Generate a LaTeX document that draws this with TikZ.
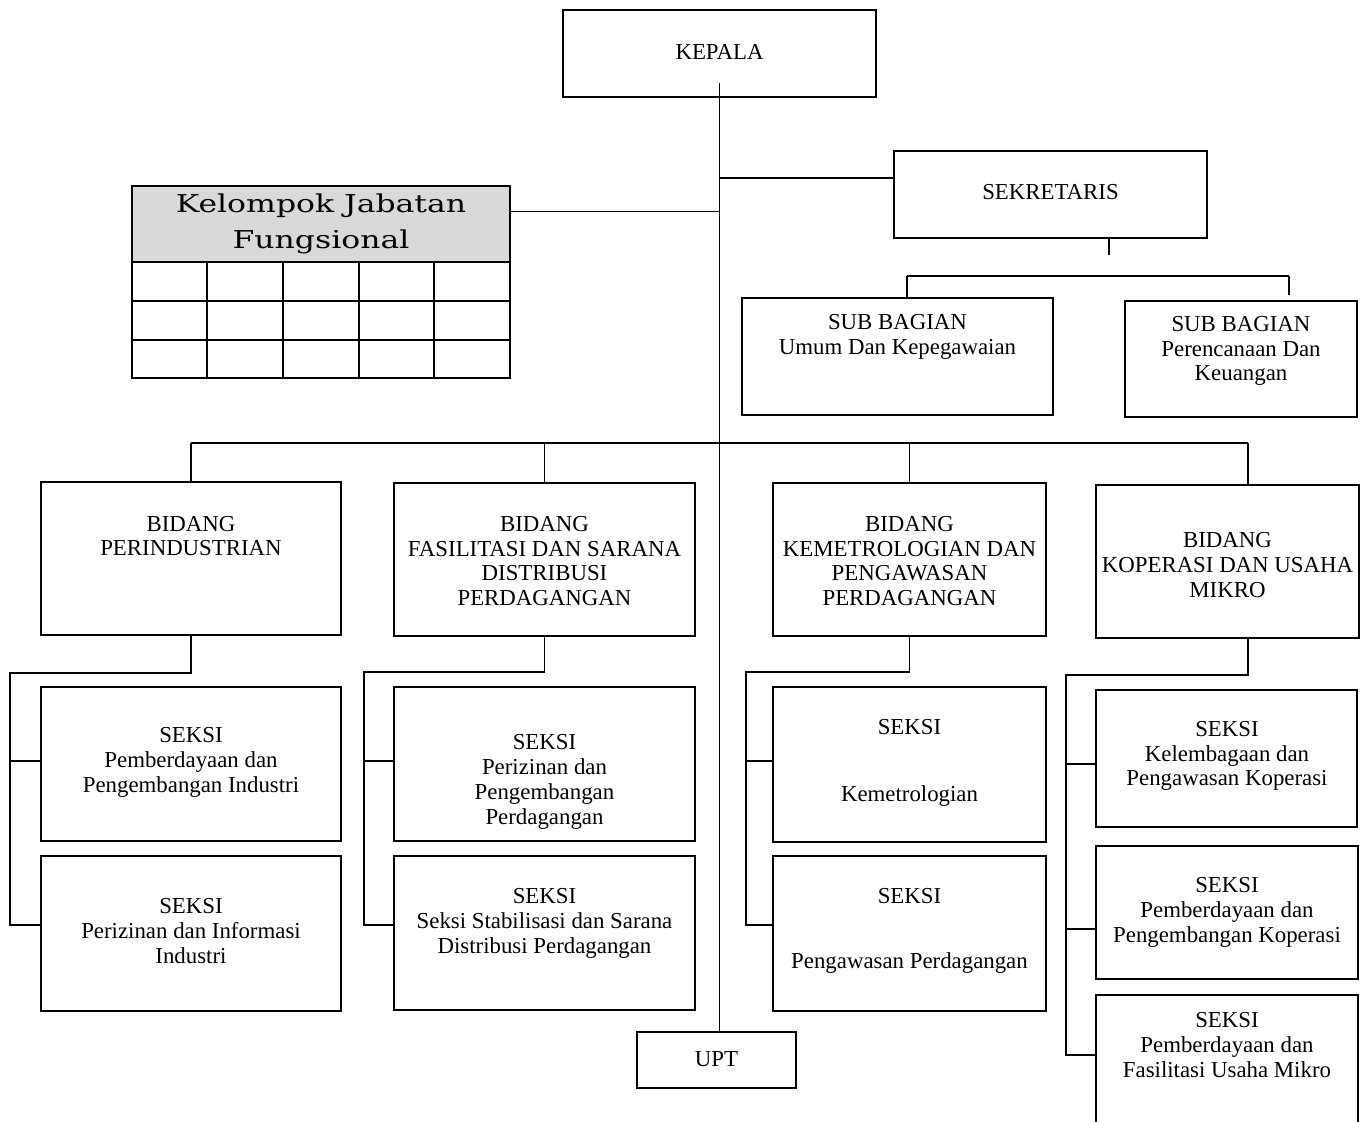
\documentclass[tikz,border=0pt]{standalone}
\usepackage{fontspec}
\setmainfont{Liberation Serif}
\newfontfamily\kjffont[FakeStretch=1.28]{DejaVu Serif}
\usetikzlibrary{fit,calc}
\begin{document}
\begin{tikzpicture}[x=0.02cm,y=-0.02cm,
  box/.style={draw, line width=1.1pt, inner sep=0pt},
  conn/.style={line width=1.1pt},
  txt/.style={align=center, font=\fontsize{13}{14.17}\selectfont, inner sep=0pt},
  kjftxt/.style={align=center, font=\kjffont\fontsize{14}{20.4}\selectfont, inner sep=0pt}]
\clip (0,0) rectangle (1366,1122);
\fill[white] (0,0) rectangle (1366,1122);

% ---------- boxes ----------
\node[box, fit={(563,10) (876,97)}] (kepala) {};
\node[box, fit={(894,151) (1207,238)}] (sek) {};
\node[box, fit={(742,298) (1053,415)}] (sub1) {};
\node[box, fit={(1125,301) (1357,417)}] (sub2) {};
\node[box, fill=black!15, fit={(132,186) (510,262)}] (kjfh) {};
\node[box, fit={(132,186) (510,378)}] (kjf) {};

\node[box, fit={(41,482) (341,635)}] (b1) {};
\node[box, fit={(394,483) (695,636)}] (b2) {};
\node[box, fit={(773,483) (1046,636)}] (b3) {};
\node[box, fit={(1096,485) (1359,638)}] (b4) {};

\node[box, fit={(41,687) (341,841)}] (s1a) {};
\node[box, fit={(41,856) (341,1011)}] (s1b) {};
\node[box, fit={(394,687) (695,841)}] (s2a) {};
\node[box, fit={(394,856) (695,1010)}] (s2b) {};
\node[box, fit={(773,687) (1046,842)}] (s3a) {};
\node[box, fit={(773,856) (1046,1011)}] (s3b) {};
\node[box, fit={(1096,690) (1357,827)}] (s4a) {};
\node[box, fit={(1096,846) (1358,979)}] (s4b) {};
\node[box, fit={(1096,995) (1358,1200)}] (s4c) {};

\node[box, fit={(637,1032) (796,1088)}] (upt) {};

% ---------- grid of Kelompok Jabatan Fungsional ----------
\foreach \yy in {301,340} \draw[conn] (kjf.west |- 0,\yy) -- (kjf.east |- 0,\yy);
\foreach \xx in {207,283,359,434} \draw[conn] (\xx,0 |- kjfh.south) -- (\xx,0 |- kjf.south);

% ---------- texts ----------
\node[txt] (tkepala) at (719.5,52) {KEPALA};
\node[txt] (tsek) at (1050.5,192) {SEKRETARIS};
\node[txt] (tsub1) at (897.5,337) {SUB BAGIAN\\Umum Dan Kepegawaian};
\node[txt] (tsub2) at (1241,351) {SUB BAGIAN\\Perencanaan Dan\\Keuangan};
\node[kjftxt] (tkjf) at (321,224) {Kelompok Jabatan\\Fungsional};

\node[txt] (tb1) at (191,536) {BIDANG\\PERINDUSTRIAN};
\node[txt] (tb2) at (544.5,561) {BIDANG\\FASILITASI DAN SARANA\\DISTRIBUSI\\PERDAGANGAN};
\node[txt] (tb3) at (909.5,561) {BIDANG\\KEMETROLOGIAN DAN\\PENGAWASAN\\PERDAGANGAN};
\node[txt] (tb4) at (1227.5,565) {BIDANG\\KOPERASI DAN USAHA\\MIKRO};

\node[txt] (ts1a) at (191,762) {SEKSI\\Pemberdayaan dan\\Pengembangan Industri};
\node[txt] (ts1b) at (191,931) {SEKSI\\Perizinan dan Informasi\\Industri};
\node[txt] (ts2a) at (544.5,782) {SEKSI\\Perizinan dan\\Pengembangan\\Perdagangan};
\node[txt] (ts2b) at (544.5,923) {SEKSI\\Seksi Stabilisasi dan Sarana\\Distribusi Perdagangan};
\node[txt] (ts3a) at (909.5,763) {SEKSI\\[23.8pt]Kemetrologian};
\node[txt] (ts3b) at (909.5,931) {SEKSI\\[23.2pt]Pengawasan Perdagangan};
\node[txt] (ts4a) at (1227,756) {SEKSI\\Kelembagaan dan\\Pengawasan Koperasi};
\node[txt] (ts4b) at (1227,912) {SEKSI\\Pemberdayaan dan\\Pengembangan Koperasi};
\node[txt] (ts4c) at (1227,1045) {SEKSI\\Pemberdayaan dan\\Fasilitasi Usaha Mikro};
\node[txt] (tupt) at (716.5,1059) {UPT};

% ---------- connectors: top part ----------
\draw[conn] ($(kepala.south)+(0,-15)$) -- (kepala.south |- upt.north);
\coordinate (sekin) at ($(sek.north west)!0.31!(sek.south west)$);
\draw[conn] (kepala.south |- sekin) -- (sekin);
\coordinate (kjfout) at ($(kjfh.north east)!0.34!(kjfh.south east)$);
\draw[conn] (kjfout) -- (kepala.south |- kjfout);

\coordinate (sekstub) at ($(sek.south west)!0.686!(sek.south east)$);
\draw[conn] (sekstub) -- ++(0,16);
\coordinate (sbL) at (907,276);
\coordinate (sbR) at (1289,276);
\draw[conn, line width=0.9pt] (sbL) -- (sbR);
\draw[conn] (sbL) -- (sbL |- sub1.north);
\draw[conn] (sbR) -- ++(0,19);

% ---------- connectors: bidang bus ----------
\coordinate (bus) at (0,443);
\coordinate (b4top) at ($(b4.north west)!0.578!(b4.north east)$);
\draw[conn] (b1.north |- bus) -- (b4top |- bus);
\foreach \n in {b1,b2,b3} \draw[conn] (\n.north |- bus) -- (\n.north);
\draw[conn] (b4top |- bus) -- (b4top);

% ---------- connectors: seksi ----------
% column 1
\coordinate (r1) at (10,673);
\coordinate (r1a) at (10,761);
\coordinate (r1b) at (10,925);
\draw[conn] (b1.south) |- (r1) -- (r1b) -- (r1b -| s1b.west);
\draw[conn] (r1a) -- (r1a -| s1a.west);
% column 2
\coordinate (r2) at (364,672);
\coordinate (r2a) at (364,761);
\coordinate (r2b) at (364,925);
\draw[conn] (b2.south) |- (r2) -- (r2b) -- (r2b -| s2b.west);
\draw[conn] (r2a) -- (r2a -| s2a.west);
% column 3
\coordinate (r3) at (746,672);
\coordinate (r3a) at (746,761);
\coordinate (r3b) at (746,925);
\draw[conn] (b3.south) |- (r3) -- (r3b) -- (r3b -| s3b.west);
\draw[conn] (r3a) -- (r3a -| s3a.west);
% column 4
\coordinate (r4) at (1066,675);
\coordinate (r4a) at (1066,764);
\coordinate (r4b) at (1066,929);
\coordinate (r4c) at (1066,1055);
\draw[conn] (b4top |- b4.south) |- (r4) -- (r4c) -- (r4c -| s4c.west);
\draw[conn] (r4a) -- (r4a -| s4a.west);
\draw[conn] (r4b) -- (r4b -| s4b.west);
\end{tikzpicture}
\end{document}
